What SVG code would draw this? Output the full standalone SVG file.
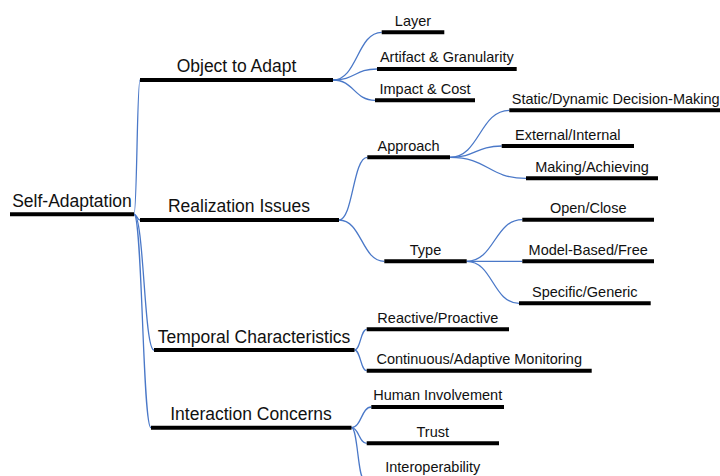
<svg xmlns="http://www.w3.org/2000/svg" width="720" height="476" viewBox="0 0 720 476">
<style>
.bar{stroke:#000;stroke-width:4;stroke-linecap:butt}
.c{fill:none;stroke:#4a78c8;stroke-width:1.3}
.m{font-family:"Liberation Sans",Arial,sans-serif;font-size:17.5px;fill:#111;text-anchor:middle}
.s{font-family:"Liberation Sans",Arial,sans-serif;font-size:14.5px;fill:#111;text-anchor:middle}
</style>
<rect width="720" height="476" fill="#fff"/>
<g id="connectors">
<path class="c" d="M134,214.3 C137,214.3 137,80 140,80"/>
<path class="c" d="M134,214.3 C137,214.3 137,220 140,220"/>
<path class="c" d="M134,214.3 C144,214.3 144,350 154,350"/>
<path class="c" d="M134,214.3 C142.5,214.3 142.5,427.7 151,427.7"/>
<path class="c" d="M333,80 C357.3,80 357.3,32.3 381.7,32.3"/>
<path class="c" d="M333,80 C355,80 355,69 377,69"/>
<path class="c" d="M333,80 C354,80 354,100.3 375,100.3"/>
<path class="c" d="M339,220 C353,220 353,157.3 367.3,157.3"/>
<path class="c" d="M339,220 C361.7,220 361.7,261.3 384.3,261.3"/>
<path class="c" d="M450,157.3 C479.7,157.3 479.7,110.3 509.3,110.3"/>
<path class="c" d="M450,157.3 C475.8,157.3 475.8,146 501.7,146"/>
<path class="c" d="M450,157.3 C488,157.3 488,178.3 526,178.3"/>
<path class="c" d="M466.7,261.3 C494.5,261.3 494.5,219.7 522.3,219.7"/>
<path class="c" d="M466.7,261.3 L522.3,261.3"/>
<path class="c" d="M466.7,261.3 C492.8,261.3 492.8,303.3 519,303.3"/>
<path class="c" d="M354.5,350 C360.6,350 360.6,329.3 366.7,329.3"/>
<path class="c" d="M354.5,350 C360.6,350 360.6,370.7 366.7,370.7"/>
<path class="c" d="M351.5,427.7 C361.4,427.7 361.4,407 371.3,407"/>
<path class="c" d="M351.5,427.7 C359,427.7 359,443.3 366.7,443.3"/>
<path class="c" d="M351.5,427.7 C357.8,427.7 357.8,479 364,479"/>
</g>
<g id="root"><line class="bar" x1="10" y1="214.3" x2="134" y2="214.3"/><text class="m" x="72" y="207">Self-Adaptation</text></g>
<g id="object"><line class="bar" x1="140" y1="80" x2="333" y2="80"/><text class="m" x="236.5" y="72.3">Object to Adapt</text></g>
<g id="realization"><line class="bar" x1="140" y1="220" x2="339" y2="220"/><text class="m" x="239" y="212.3">Realization Issues</text></g>
<g id="temporal"><line class="bar" x1="154" y1="350" x2="354.5" y2="350"/><text class="m" x="254" y="342.5">Temporal Characteristics</text></g>
<g id="interaction"><line class="bar" x1="151" y1="427.7" x2="351.5" y2="427.7"/><text class="m" x="251" y="420">Interaction Concerns</text></g>
<g id="layer"><line class="bar" x1="381.7" y1="32.3" x2="444.3" y2="32.3"/><text class="s" x="413" y="25.8">Layer</text></g>
<g id="artifact"><line class="bar" x1="377" y1="69" x2="516.7" y2="69"/><text class="s" x="446.8" y="62.3">Artifact &amp; Granularity</text></g>
<g id="impact"><line class="bar" x1="375" y1="100.3" x2="475" y2="100.3"/><text class="s" x="425" y="93.8">Impact &amp; Cost</text></g>
<g id="approach"><line class="bar" x1="367.3" y1="157.3" x2="450" y2="157.3"/><text class="s" x="408.6" y="150.8">Approach</text></g>
<g id="static"><line class="bar" x1="509.3" y1="110.3" x2="722" y2="110.3"/><text class="s" x="615.7" y="103.8">Static/Dynamic Decision-Making</text></g>
<g id="external"><line class="bar" x1="501.7" y1="146" x2="634" y2="146"/><text class="s" x="567.8" y="139.5">External/Internal</text></g>
<g id="making"><line class="bar" x1="526" y1="178.3" x2="658" y2="178.3"/><text class="s" x="592" y="171.8">Making/Achieving</text></g>
<g id="type"><line class="bar" x1="384.3" y1="261.3" x2="466.7" y2="261.3"/><text class="s" x="425.5" y="254.8">Type</text></g>
<g id="open"><line class="bar" x1="522.3" y1="219.7" x2="654" y2="219.7"/><text class="s" x="588.2" y="213">Open/Close</text></g>
<g id="model"><line class="bar" x1="522.3" y1="261.3" x2="654" y2="261.3"/><text class="s" x="588.2" y="254.8">Model-Based/Free</text></g>
<g id="specific"><line class="bar" x1="519" y1="303.3" x2="650.7" y2="303.3"/><text class="s" x="584.8" y="296.5">Specific/Generic</text></g>
<g id="reactive"><line class="bar" x1="366.7" y1="329.3" x2="509" y2="329.3"/><text class="s" x="437.8" y="322.7">Reactive/Proactive</text></g>
<g id="continuous"><line class="bar" x1="366.7" y1="370.7" x2="591.7" y2="370.7"/><text class="s" x="479.2" y="364">Continuous/Adaptive Monitoring</text></g>
<g id="human"><line class="bar" x1="371.3" y1="407" x2="504" y2="407"/><text class="s" x="437.7" y="400.3">Human Involvement</text></g>
<g id="trust"><line class="bar" x1="366.7" y1="443.3" x2="499" y2="443.3"/><text class="s" x="432.8" y="436.5">Trust</text></g>
<g id="interop"><line class="bar" x1="364" y1="479" x2="502" y2="479"/><text class="s" x="432.8" y="471.7">Interoperability</text></g>
</svg>
